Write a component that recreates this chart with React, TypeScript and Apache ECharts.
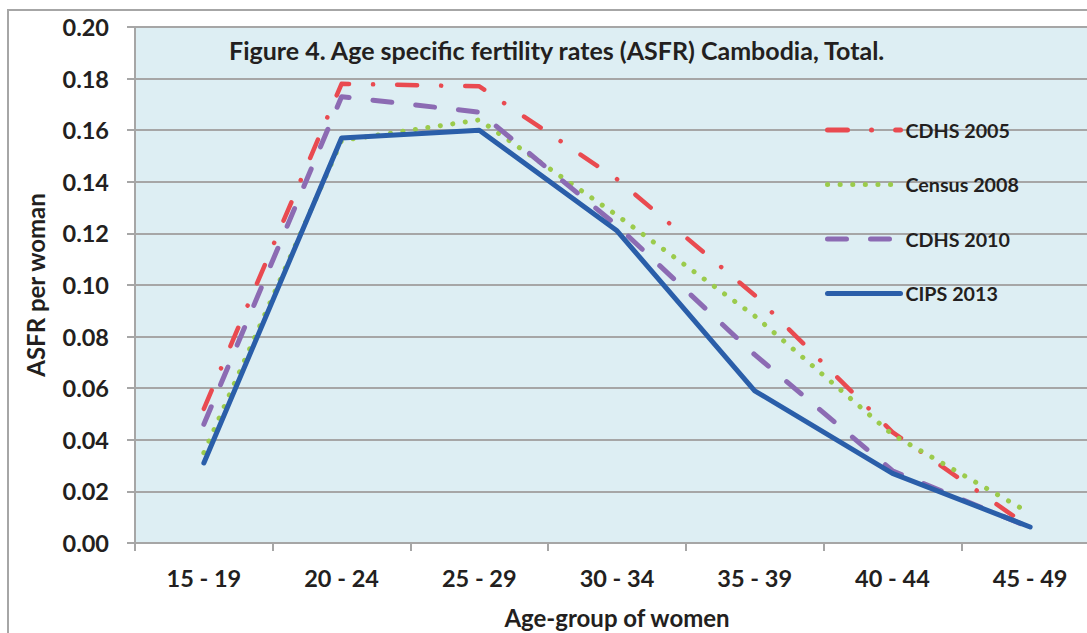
import React, { useEffect, useRef } from "react";
import * as echarts from "echarts";

const categories = ["15 - 19", "20 - 24", "25 - 29", "30 - 34", "35 - 39", "40 - 44", "45 - 49"];
const cdhs2005 = [0.052, 0.178, 0.177, 0.141, 0.096, 0.043, 0.006];
const census2008 = [0.035, 0.156, 0.164, 0.127, 0.088, 0.042, 0.0115];
const cdhs2010 = [0.046, 0.173, 0.167, 0.123, 0.073, 0.028, 0.006];
const cips2013 = [0.031, 0.157, 0.160, 0.121, 0.059, 0.027, 0.0062];
const yTicks = [0, 0.02, 0.04, 0.06, 0.08, 0.1, 0.12, 0.14, 0.16, 0.18, 0.2];
const seriesNames = ["CDHS 2005", "Census 2008", "CDHS 2010", "CIPS 2013"];

const FONT = "Lato";
const TXT = "#231F20";

export default function App() {
  const ref = useRef<HTMLDivElement>(null);
  useEffect(() => {
    if (!ref.current) return;
    const chart = echarts.init(ref.current, undefined, { renderer: "svg" });
    chart.setOption({
      animation: false,
      backgroundColor: "#ffffff",
      textStyle: { fontFamily: FONT },
      title: {
        text: "Figure 4. Age specific fertility rates (ASFR) Cambodia, Total.",
        left: 224,
        top: 32,
        textStyle: { fontFamily: FONT, fontSize: 25, fontWeight: "bold", color: TXT },
      },
      graphic: [
        {
          type: "rect",
          shape: { x: 8, y: 10, width: 1300, height: 1000 },
          style: { fill: "none", stroke: "#A6A6A6", lineWidth: 2 },
          z: -10,
        },
      ],
      legend: {
        orient: "vertical",
        left: 820,
        top: 115,
        itemWidth: 73,
        itemHeight: 14,
        itemGap: 34.5,
        itemStyle: { opacity: 0 },
        lineStyle: { width: 5, cap: "round" },
        textStyle: { fontFamily: FONT, fontSize: 19.7, fontWeight: "bold", color: TXT },
        data: seriesNames,
      },
      grid: {
        left: 135,
        top: 27,
        width: 964,
        height: 516,
        show: true,
        backgroundColor: "#DDEEF3",
        borderWidth: 0,
        containLabel: false,
        outerBoundsMode: "none",
      },
      xAxis: {
        type: "category",
        data: categories,
        boundaryGap: true,
        name: "Age-group of women",
        nameLocation: "middle",
        nameGap: 62,
        nameTextStyle: { fontFamily: FONT, fontSize: 24, fontWeight: "bold", color: TXT },
        axisLine: { show: true, lineStyle: { color: "#A6A6A6", width: 2 } },
        axisTick: { show: true, length: 8, lineStyle: { color: "#A6A6A6", width: 2 } },
        axisLabel: { margin: 23, fontFamily: FONT, fontSize: 23.5, fontWeight: "bold", color: TXT },
        splitLine: { show: false },
      },
      yAxis: {
        type: "value",
        min: yTicks[0],
        max: yTicks[yTicks.length - 1],
        interval: 0.02,
        name: "ASFR per woman",
        nameLocation: "middle",
        nameGap: 88,
        nameTextStyle: { fontFamily: FONT, fontSize: 24, fontWeight: "bold", color: TXT },
        axisLine: { show: true, lineStyle: { color: "#A6A6A6", width: 2 } },
        axisTick: { show: true, length: 8, lineStyle: { color: "#A6A6A6", width: 2 } },
        axisLabel: {
          margin: 26,
          fontFamily: FONT,
          fontSize: 23.5,
          fontWeight: "bold",
          color: TXT,
          formatter: (v: number) => v.toFixed(2),
        },
        splitLine: { show: true, lineStyle: { color: "#A6A6A6", width: 2 } },
      },
      series: [
        {
          name: seriesNames[0],
          type: "line",
          data: cdhs2005,
          symbol: "none",
          color: "#E94A50",
          lineStyle: { color: "#E94A50", width: 4.5, type: [20, 24, 0.1, 24], cap: "round", join: "round" },
          z: 3,
        },
        {
          name: seriesNames[1],
          type: "line",
          data: census2008,
          symbol: "none",
          color: "#9BCB4C",
          lineStyle: { color: "#9BCB4C", width: 5, type: [0.1, 12.5], cap: "round", join: "round" },
          z: 4,
        },
        {
          name: seriesNames[2],
          type: "line",
          data: cdhs2010,
          symbol: "none",
          color: "#8C6BB3",
          lineStyle: { color: "#8C6BB3", width: 5, type: [19, 24], cap: "round", join: "round" },
          z: 5,
        },
        {
          name: seriesNames[3],
          type: "line",
          data: cips2013,
          symbol: "none",
          color: "#2A5EA9",
          lineStyle: { color: "#2A5EA9", width: 5, type: "solid", cap: "round", join: "round" },
          z: 6,
        },
      ],
    });
    return () => chart.dispose();
  }, []);
  return (
    <div
      ref={ref}
      style={{ position: "absolute", left: 0, top: 0, width: 1087, height: 633 }}
    />
  );
}
